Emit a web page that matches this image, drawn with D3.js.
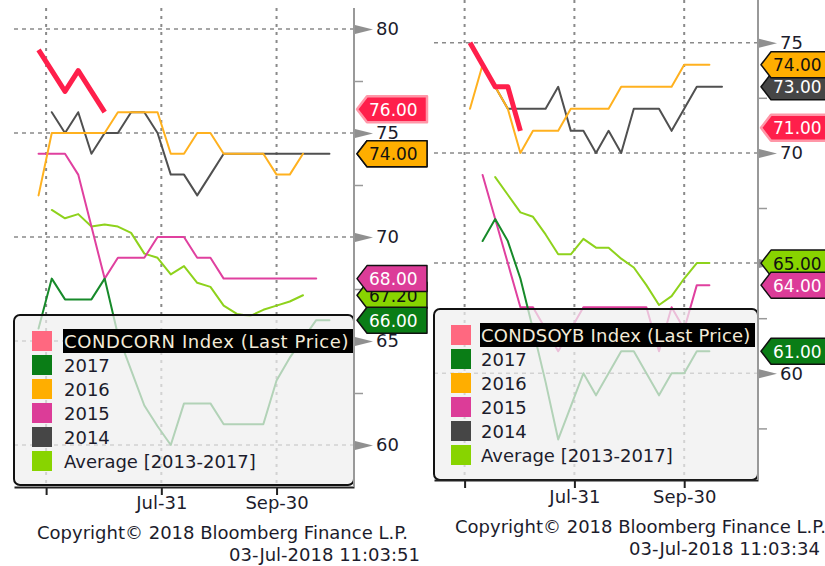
<!DOCTYPE html>
<html>
<head>
<meta charset="utf-8">
<script src="https://cdnjs.cloudflare.com/ajax/libs/d3/7.8.5/d3.min.js"></script>
<style>
  body { margin: 0; background: #fff; }
  svg { display: block; font-family: "DejaVu Sans", Verdana, sans-serif; }
</style>
</head>
<body>
<div id="chart"></div>
<script>
// weekly crop condition readings (% good/excellent), one value per week
var cornStart = "2018-05-27";
var soyStart = "2018-06-03";

var cornLast = [79, 78, 77, 78, 77, 76];
var corn2017 = [65.6, 68, 67, 67, 67, 68, 65.3, 63.6, 61.9, 60.9, 60, 62, 62, 62, 61, 61, 61, 61, 63.1, 64.2, 65.1, 66, 66];
var corn2016 = [72, 75, 75, 75, 75, 75, 76, 76, 76, 76, 74, 74, 75, 75, 74, 74, 74, 74, 73, 73, 74];
var corn2015 = [74, 74, 74, 73, 70.5, 68, 69, 69, 69, 70, 70, 70, 69, 69, 68, 68, 68, 68, 68, 68, 68, 68];
var corn2014 = [null, 76, 75, 76, 74, 75, 75, 76, 76, 75, 73, 73, 72, 73, 74, 74, 74, 74, 74, 74, 74, 74, 74];
var cornAvg  = [null, 71.3, 70.9, 71.1, 70.5, 70.6, 70.5, 70.2, 69.2, 69.0, 68.2, 68.6, 67.8, 67.6, 66.7, 66.3, 66.2, 66.5, 66.7, 66.9, 67.2];

var soyLast = [75, 74, 73, 73, 71];
var soy2017 = [null, 66, 67, 66, 64.3, 62, 59.6, 57, 58.5, 60, 59, 60, 61, 61, 60, 59, 60, 60, 61, 61];
var soy2016 = [72, 74, 73, 72, 70, 71, 71, 71, 72, 72, 72, 72, 73, 73, 73, 73, 73, 74, 74, 74];
var soy2015 = [null, 69, 67, 65, 63, 63, 62, 61, 62, 63, 63, 63, 63, 63, 63, 61, 63, 62, 64, 64];
var soy2014 = [null, 74, 73, 72, 72, 72, 72, 73, 71, 71, 70, 71, 70, 72, 72, 72, 71, 72, 73, 73, 73];
var soyAvg  = [null, null, 68.9, 68.1, 67.3, 67.1, 66.3, 65.4, 65.4, 66.1, 65.7, 65.7, 65.2, 64.8, 64.0, 63.1, 63.5, 64.3, 65.0, 65.0];

var seriesNames = ["Last", "2017", "2016", "2015", "2014", "Average [2013-2017]"];
var lineColors = ["#ff1f4b", "#178a2a", "#ffb11f", "#e0409f", "#505050", "#8ed21c"];
var swatchColors = ["#ff6880", "#0a7d16", "#ffae00", "#dc3c98", "#464646", "#88d400"];
var labelText = ["#fff", "#fff", "#111", "#fff", "#fff", "#111"];

var xDomain = ["2018-05-14", "2018-11-10"];
var xTicks = ["2018-05-31", "2018-07-31", "2018-09-30"];
var stamps = ["03-Jul-2018 11:03:51", "03-Jul-2018 11:03:34"];

var parse = d3.timeParse("%Y-%m-%d");

var svg = d3.select("#chart").append("svg")
    .attr("width", 825)
    .attr("height", 566);
svg.append("rect").attr("width", 825).attr("height", 566).attr("fill", "#fff");

var panels = [
  {name: "CONDCORN", start: cornStart, data: [cornLast, corn2017, corn2016, corn2015, corn2014, cornAvg],
   xr: [14, 354], yd: [60, 80], yr: [445, 29], top: 8, bottom: 487,
   major: [60, 65, 70, 75, 80], minor: [62.5, 67.5, 72.5, 77.5],
   legend: {x: 14, y: 315, w: 340, h: 170, row0: 341, sw: 32, tx: 64, barW: 290, ls: 0.6},
   tickY: 509, copyX: 37, copyY: 539, stampX: 420, stampY: 561, stamp: stamps[0]},
  {name: "CONDSOYB", start: soyStart, data: [soyLast, soy2017, soy2016, soy2015, soy2014, soyAvg],
   xr: [434, 758], yd: [60, 75], yr: [373.3, 42.7], top: 0, bottom: 480,
   major: [60, 65, 70, 75], minor: [57.5, 62.5, 67.5, 72.5],
   legend: {x: 434, y: 309, w: 324, h: 171, row0: 335, sw: 451, tx: 481, barW: 275, ls: 0.2},
   tickY: 503, copyX: 455, copyY: 533, stampX: 820, stampY: 555, stamp: stamps[1]}
];

panels.forEach(drawPanel);

function drawPanel(p) {
  var g = svg.append("g");
  var x = d3.scaleTime().domain(xDomain.map(parse)).range(p.xr);
  var y = d3.scaleLinear().domain(p.yd).range(p.yr);
  var t0 = parse(p.start);
  var weekDate = function(i) { return d3.timeDay.offset(t0, 7 * i); };

  // grid
  g.append("g").selectAll("line").data(p.major).enter().append("line")
    .attr("x1", p.xr[0]).attr("x2", p.xr[1])
    .attr("y1", d => y(d)).attr("y2", d => y(d))
    .attr("stroke", "#8a8a8a").attr("stroke-width", 1.5).attr("stroke-dasharray", "4,4");
  g.append("g").selectAll("line").data(xTicks.map(parse)).enter().append("line")
    .attr("x1", d => x(d)).attr("x2", d => x(d))
    .attr("y1", p.top).attr("y2", p.bottom)
    .attr("stroke", "#8a8a8a").attr("stroke-width", 2).attr("stroke-dasharray", "3,5");

  // lines, drawn so the last price ends on top
  var line = d3.line()
    .defined(d => d != null)
    .x((d, i) => x(weekDate(i)))
    .y(d => y(d));
  var order = [5, 4, 3, 2, 1, 0];
  order.forEach(function(k) {
    g.append("path")
      .datum(p.data[k])
      .attr("d", line)
      .attr("fill", "none")
      .attr("stroke", lineColors[k])
      .attr("stroke-width", k == 0 ? 5 : 2)
      .attr("stroke-linejoin", "round")
      .attr("stroke-linecap", k == 0 ? "butt" : "round");
  });

  // legend
  var L = p.legend;
  g.append("rect")
    .attr("x", L.x).attr("y", L.y).attr("width", L.w).attr("height", L.h)
    .attr("rx", 6)
    .attr("fill", "#eeeeee").attr("fill-opacity", 0.72)
    .attr("stroke", "#111").attr("stroke-width", 2);
  var rows = g.append("g").selectAll("g").data(seriesNames).enter().append("g")
    .attr("transform", (d, i) => "translate(0," + (L.row0 + i * 24) + ")");
  rows.append("rect")
    .attr("x", L.sw).attr("y", -10).attr("width", 20).attr("height", 20)
    .attr("fill", (d, i) => swatchColors[i]);
  rows.filter((d, i) => i == 0).append("rect")
    .attr("x", L.tx - 1).attr("y", -12).attr("width", L.barW).attr("height", 24)
    .attr("fill", "#000");
  rows.append("text")
    .attr("x", L.tx).attr("y", 6.5)
    .attr("font-size", "18px")
    .attr("letter-spacing", (d, i) => i == 0 ? L.ls + "px" : null)
    .attr("fill", (d, i) => i == 0 ? "#f3ead8" : "#1c1c2c")
    .text((d, i) => i == 0 ? p.name + " Index (Last Price)" : d);

  // bottom axis
  var xa = g.append("g")
    .attr("transform", "translate(0," + p.bottom + ")")
    .call(d3.axisBottom(x).tickValues(xTicks.map(parse)).tickSizeOuter(0).tickSizeInner(8)
      .tickFormat(d => d.getMonth() == 4 ? "" : d3.timeFormat("%b-%d")(d)));
  xa.select(".domain").attr("stroke", "#222").attr("stroke-width", 2);
  xa.selectAll(".tick line").attr("stroke", "#222").attr("stroke-width", 2);
  xa.selectAll(".tick text")
    .attr("y", p.tickY - p.bottom).attr("dy", 0)
    .attr("font-size", "18px").attr("font-family", "DejaVu Sans")
    .attr("fill", "#1c1c2c");

  // right axis
  var ax = p.xr[1];
  g.append("line").attr("x1", ax).attr("x2", ax).attr("y1", p.top).attr("y2", p.bottom)
    .attr("stroke", "#999").attr("stroke-width", 2);
  var ya = g.append("g")
    .attr("transform", "translate(" + ax + ",0)")
    .call(d3.axisRight(y).tickValues(p.major).tickSize(0).tickPadding(22));
  ya.select(".domain").remove();
  ya.selectAll(".tick text").attr("font-size", "18px").attr("font-family", "DejaVu Sans")
    .attr("fill", "#1c1c2c");
  ya.selectAll(".tick").append("path")
    .attr("d", "M1,-4.5L19,0L1,4.5Z").attr("fill", "#909090");
  var ym = g.append("g")
    .attr("transform", "translate(" + ax + ",0)")
    .call(d3.axisRight(y).tickValues(p.minor).tickSize(9).tickFormat(""));
  ym.select(".domain").remove();
  ym.selectAll(".tick line").attr("stroke", "#999").attr("stroke-width", 1.5);

  // last value flags on the axis
  var flagOrder = [5, 4, 3, 2, 1, 0];
  flagOrder.forEach(function(k) {
    var vals = p.data[k].filter(v => v != null);
    var v = vals[vals.length - 1];
    var yc = y(v) - (k == 0 ? 3 : 0);
    var x0 = ax + 3;
    var f = g.append("g");
    f.append("path")
      .attr("d", "M" + x0 + "," + yc + "L" + (x0 + 10) + "," + (yc - 13) + "L" + (x0 + 70) + "," + (yc - 13) +
                 "L" + (x0 + 70) + "," + (yc + 13) + "L" + (x0 + 10) + "," + (yc + 13) + "Z")
      .attr("fill", k == 0 ? lineColors[0] : swatchColors[k])
      .attr("stroke", k == 0 ? "#ff97a8" : "#111")
      .attr("stroke-width", k == 0 ? 2.5 : 1.5)
      .attr("stroke-linejoin", "round");
    f.append("text")
      .attr("x", x0 + 12).attr("y", yc + 6.5)
      .attr("font-size", "17px")
      .attr("fill", labelText[k])
      .text(d3.format(".2f")(v));
  });

  // footer
  g.append("text").attr("x", p.copyX).attr("y", p.copyY)
    .attr("font-size", "18px").attr("fill", "#1c1c2c")
    .text("Copyright\u00a9 2018 Bloomberg Finance L.P.");
  g.append("text").attr("x", p.stampX).attr("y", p.stampY)
    .attr("text-anchor", "end")
    .attr("font-size", "18px").attr("fill", "#1c1c2c")
    .text(p.stamp);
}
</script>
</body>
</html>
